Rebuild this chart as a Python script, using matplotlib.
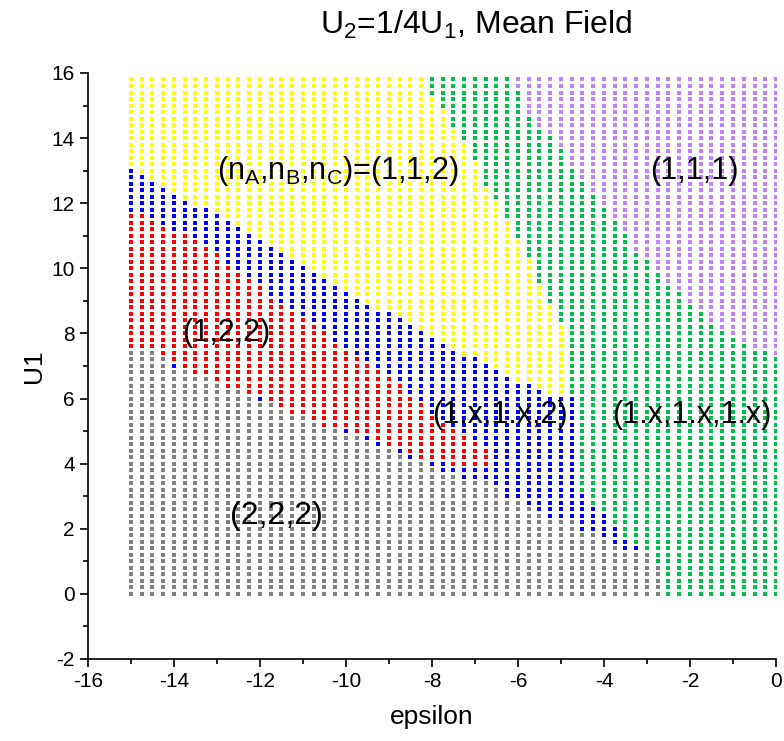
import numpy as np
import matplotlib.pyplot as plt
from matplotlib.ticker import MultipleLocator

plt.rcParams['font.family'] = ['Liberation Sans', 'DejaVu Sans']
plt.rcParams['mathtext.fontset'] = 'custom'
plt.rcParams['mathtext.rm'] = 'Liberation Sans'
plt.rcParams['mathtext.it'] = 'Liberation Sans:italic'
plt.rcParams['axes.unicode_minus'] = False

# scan grid
eps = np.arange(61) * 0.25 - 15.0
u1 = np.arange(80) * 0.2

# per epsilon column: highest U1 of each phase (stacked bottom to top),
# a phase missing in a column repeats the value below it
gray_top = [7.4, 7.4, 7.4, 7.2, 6.8, 6.8, 6.6, 6.6, 6.4, 6.2,
            6.2, 6.0, 5.8, 5.8, 5.6, 5.4, 5.4, 5.2, 5.0, 5.0,
            4.8, 4.8, 4.6, 4.4, 4.4, 4.2, 4.0, 4.0, 3.8, 3.6,
            3.6, 3.6, 3.4, 3.4, 3.2, 2.8, 2.8, 2.6, 2.4, 2.2,
            2.2, 2.2, 1.8, 1.8, 1.6, 1.4, 1.2, 1.2, 1.2, 0.8,
            -1, -1, -1, -1, -1, -1, -1, -1, -1, -1, -1]
red_top = [11.6, 11.6, 11.4, 11.2, 11.0, 11.0, 10.8, 10.6, 10.4, 10.0,
           9.8, 9.6, 9.4, 9.0, 8.8, 8.6, 8.4, 8.2, 8.0, 7.6,
           7.4, 7.2, 7.0, 6.8, 6.6, 6.4, 6.0, 5.8, 5.4, 5.2,
           5.0, 4.8, 4.6, 4.4, 3.2, 2.8, 2.8, 2.6, 2.4, 2.2,
           2.2, 2.2, 1.8, 1.8, 1.6, 1.4, 1.2, 1.2, 1.2, 0.8,
           -1, -1, -1, -1, -1, -1, -1, -1, -1, -1, -1]
blue_top = [13.0, 12.8, 12.6, 12.4, 12.2, 12.0, 11.8, 11.8, 11.6, 11.4,
            11.2, 11.0, 10.8, 10.6, 10.4, 10.2, 10.0, 9.8, 9.6, 9.4,
            9.2, 9.0, 8.8, 8.6, 8.6, 8.4, 8.2, 8.0, 7.8, 7.6,
            7.4, 7.2, 7.2, 7.0, 6.8, 6.6, 6.4, 6.4, 6.2, 6.0,
            6.0, 6.0, 3.0, 2.6, 2.4, 2.0, 1.6, 1.4, 1.2, 0.8,
            -1, -1, -1, -1, -1, -1, -1, -1, -1, -1, -1]
yellow_top = [15.8] * 28 + [
              15.2, 14.8, 14.2, 13.8, 13.2, 12.4, 12.0, 11.4, 10.8, 10.2,
              9.4, 8.8, 8.2,
              6.0, 3.0, 2.6, 2.4, 2.0, 1.6, 1.4, 1.2, 0.8,
              -1, -1, -1, -1, -1, -1, -1, -1, -1, -1, -1]
green_top = [15.8] * 36 + [
             15.4, 14.6, 14.2, 14.0, 13.6, 13.0, 12.6, 12.2, 11.8, 11.4,
             11.0, 10.4, 10.2, 9.8, 9.4, 9.2, 8.8, 8.6, 8.2, 8.0,
             7.8, 7.6, 7.4, 7.4, 7.2]

# isolated (1.x,1.x,2) points along the gray/red border
stray_eps = [-14.0, -12.0, -10.0, -9.5, -9.25, -8.75, -8.5, -8.0, -7.75, -7.75,
             -7.5, -7.25, -7.25, -7.0, -7.0, -6.75, -6.75]
stray_u1 = [7.0, 6.0, 5.0, 4.8, 4.6, 4.4, 4.2, 4.0, 3.8, 4.0,
            3.8, 3.6, 3.8, 3.6, 3.8, 3.6, 3.8]

phase_names = ['gray', 'red', 'blue', 'yellow', 'green', 'purple']
phase_colors = ['#808080', '#ff0000', '#0000ff', '#ffff00', '#00c04b', '#c080ff']

E, U = np.meshgrid(eps, u1)
tops = [gray_top, red_top, blue_top, yellow_top, green_top]
phase = np.full(E.shape, 5)
for k in range(4, -1, -1):
    lim = np.array(tops[k])[None, :]
    phase[U <= lim + 1e-6] = k
for e, u in zip(stray_eps, stray_u1):
    phase[np.isclose(U, u) & np.isclose(E, e)] = 2

fig = plt.figure(figsize=(7.84, 7.41), dpi=100)
ax = fig.add_axes([0.1122, 0.1107, 0.8776, 0.7908])
for k, c in enumerate(phase_colors):
    m = phase == k
    ax.scatter(E[m], U[m], s=7, marker='s', color=c, linewidths=0)

ax.set_xlim(-16, 0)
ax.set_ylim(-2, 16)
ax.xaxis.set_major_locator(MultipleLocator(2))
ax.xaxis.set_minor_locator(MultipleLocator(1))
ax.yaxis.set_major_locator(MultipleLocator(2))
ax.yaxis.set_minor_locator(MultipleLocator(1))
ax.spines['top'].set_visible(False)
ax.spines['right'].set_visible(False)
ax.tick_params(which='major', direction='out', length=6, width=1.2, labelsize=15)
ax.tick_params(which='minor', direction='out', length=3.5, width=1.2)
for s in ('left', 'bottom'):
    ax.spines[s].set_linewidth(1.2)
ax.set_xlabel('epsilon', fontsize=19, labelpad=10)
ax.set_ylabel('U1', fontsize=19, labelpad=4)

fig.text(0.607, 0.966, 'U$_2$=1/4U$_1$, Mean Field', fontsize=23, ha='center', va='center')

ax.text(-13.0, 13.0, '(n$_\\mathrm{A}$,n$_\\mathrm{B}$,n$_\\mathrm{C}$)=(1,1,2)', fontsize=22, va='center')
ax.text(-2.93, 13.0, '(1,1,1)', fontsize=22, va='center')
ax.text(-13.8, 8.0, '(1,2,2)', fontsize=22, va='center')
ax.text(-8.0, 5.5, '(1.x,1.x,2)', fontsize=22, va='center')
ax.text(-3.8, 5.5, '(1.x,1.x,1.x)', fontsize=22, va='center')
ax.text(-12.7, 2.4, '(2,2,2)', fontsize=23, va='center')

fig.savefig('out.png', dpi=100)
